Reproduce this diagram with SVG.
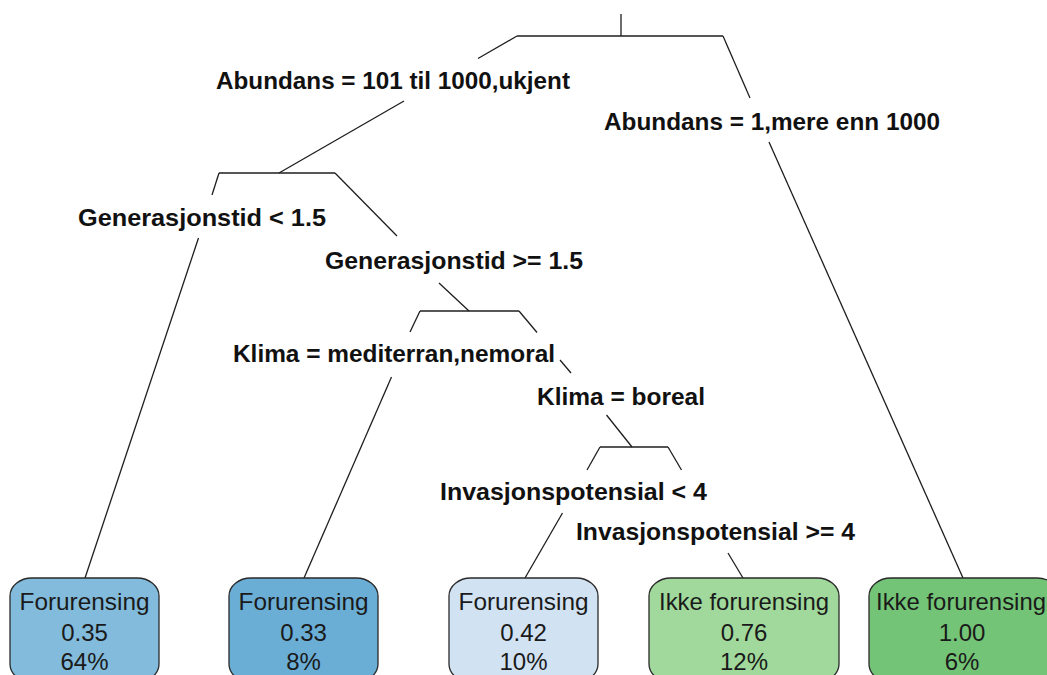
<svg xmlns="http://www.w3.org/2000/svg" width="1047" height="675" viewBox="0 0 1047 675">
  <style>
    .edge { stroke: #1e1e1e; stroke-width: 1.3; fill: none; stroke-linecap: butt; }
    .split { font-family: "Liberation Sans", Arial, sans-serif; font-weight: bold; font-size: 24px; fill: #111; text-anchor: middle; }
    .leaf rect { stroke: #2a2a2a; stroke-width: 1.3; }
    .leaf text { font-family: "Liberation Sans", Arial, sans-serif; font-size: 24px; fill: #1a1a1a; text-anchor: middle; }
  </style>
  <rect width="1047" height="675" fill="#ffffff"/>

  <!-- tree branches; gaps are left where split labels sit -->
  <g id="connectors" class="edge">
    <line x1="621" y1="14" x2="621" y2="36"/>
    <line x1="517" y1="36" x2="723" y2="36"/>
    <line x1="517" y1="36" x2="478" y2="58.5"/>
    <line x1="404" y1="101" x2="279" y2="173"/>
    <line x1="723" y1="36" x2="750" y2="98"/>
    <line x1="769" y1="142" x2="963" y2="578"/>

    <line x1="219" y1="173" x2="335" y2="173"/>
    <line x1="219" y1="173" x2="212" y2="195"/>
    <line x1="198.5" y1="238" x2="85" y2="578"/>
    <line x1="335" y1="173" x2="397" y2="236"/>
    <line x1="439" y1="283" x2="469" y2="311"/>

    <line x1="420" y1="311" x2="519" y2="311"/>
    <line x1="420" y1="311" x2="410" y2="332"/>
    <line x1="391.5" y1="377" x2="304" y2="578"/>
    <line x1="519" y1="311" x2="537" y2="332.5"/>
    <line x1="560" y1="360" x2="571" y2="373"/>
    <line x1="606.5" y1="415" x2="632" y2="447"/>

    <line x1="600" y1="447" x2="668" y2="447"/>
    <line x1="600" y1="447" x2="587" y2="470"/>
    <line x1="562.5" y1="513" x2="525" y2="578"/>
    <line x1="668" y1="447" x2="681.5" y2="470"/>
    <line x1="728" y1="553" x2="743" y2="578"/>
  </g>

  <!-- split labels -->
  <g id="split-abundans-left"><text class="split" x="393" y="89" textLength="354" lengthAdjust="spacingAndGlyphs">Abundans = 101 til 1000,ukjent</text></g>
  <g id="split-abundans-right"><text class="split" x="772" y="130" textLength="336" lengthAdjust="spacingAndGlyphs">Abundans = 1,mere enn 1000</text></g>
  <g id="split-gen-left"><text class="split" x="202" y="226" textLength="248" lengthAdjust="spacingAndGlyphs">Generasjonstid &lt; 1.5</text></g>
  <g id="split-gen-right"><text class="split" x="454" y="269" textLength="258" lengthAdjust="spacingAndGlyphs">Generasjonstid &gt;= 1.5</text></g>
  <g id="split-klima-left"><text class="split" x="394" y="362" textLength="322" lengthAdjust="spacingAndGlyphs">Klima = mediterran,nemoral</text></g>
  <g id="split-klima-right"><text class="split" x="621" y="405" textLength="168" lengthAdjust="spacingAndGlyphs">Klima = boreal</text></g>
  <g id="split-inv-left"><text class="split" x="573.5" y="500" textLength="267" lengthAdjust="spacingAndGlyphs">Invasjonspotensial &lt; 4</text></g>
  <g id="split-inv-right"><text class="split" x="715.5" y="540" textLength="279" lengthAdjust="spacingAndGlyphs">Invasjonspotensial &gt;= 4</text></g>

  <!-- leaves -->
  <g id="leaf-1" class="leaf">
    <rect x="10" y="578" width="149" height="104" rx="22" ry="18" fill="#82bbdb"/>
    <text x="84.5" y="610" textLength="130" lengthAdjust="spacingAndGlyphs">Forurensing</text>
    <text x="84.5" y="641">0.35</text>
    <text x="84.5" y="670">64%</text>
  </g>
  <g id="leaf-2" class="leaf">
    <rect x="229" y="578" width="149" height="104" rx="22" ry="18" fill="#6aaed6"/>
    <text x="303.5" y="610" textLength="130" lengthAdjust="spacingAndGlyphs">Forurensing</text>
    <text x="303.5" y="641">0.33</text>
    <text x="303.5" y="670">8%</text>
  </g>
  <g id="leaf-3" class="leaf">
    <rect x="449" y="578" width="149" height="104" rx="22" ry="18" fill="#d1e2f2"/>
    <text x="523.5" y="610" textLength="130" lengthAdjust="spacingAndGlyphs">Forurensing</text>
    <text x="523.5" y="641">0.42</text>
    <text x="523.5" y="670">10%</text>
  </g>
  <g id="leaf-4" class="leaf">
    <rect x="649" y="578" width="190" height="104" rx="22" ry="18" fill="#a0d99b"/>
    <text x="744" y="610" textLength="170" lengthAdjust="spacingAndGlyphs">Ikke forurensing</text>
    <text x="744" y="641">0.76</text>
    <text x="744" y="670">12%</text>
  </g>
  <g id="leaf-5" class="leaf">
    <rect x="869" y="578" width="190" height="104" rx="22" ry="18" fill="#73c476"/>
    <text x="961" y="610" textLength="170" lengthAdjust="spacingAndGlyphs">Ikke forurensing</text>
    <text x="962" y="641">1.00</text>
    <text x="962" y="670">6%</text>
  </g>
</svg>
